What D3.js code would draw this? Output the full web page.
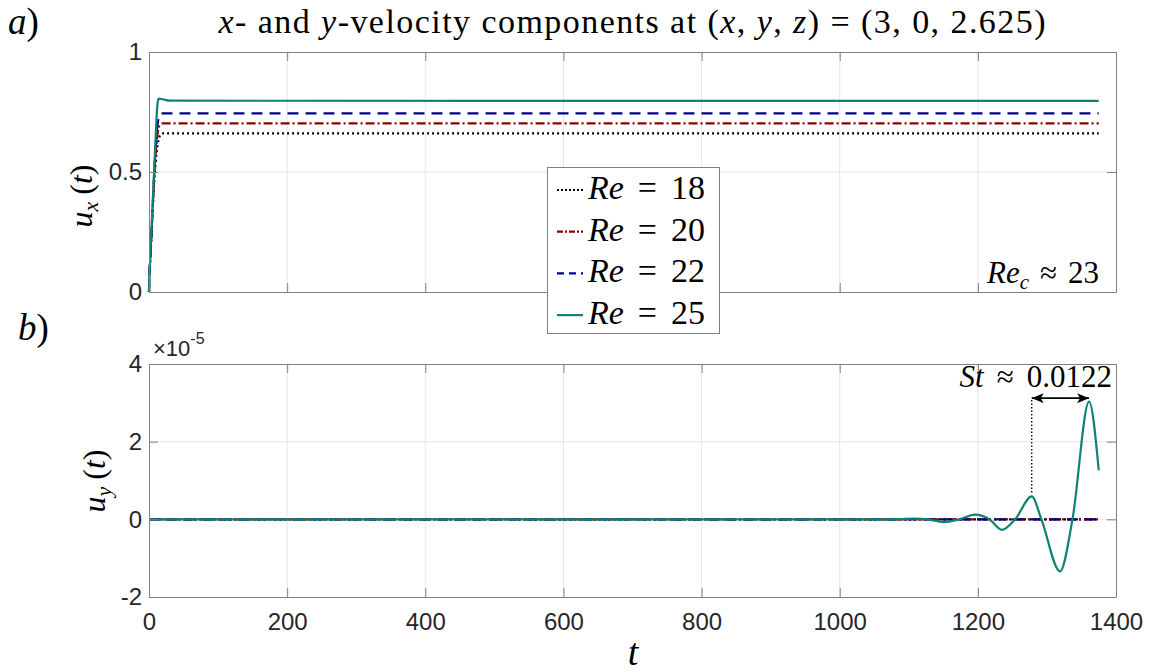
<!DOCTYPE html>
<html>
<head>
<meta charset="utf-8">
<script src="https://cdn.jsdelivr.net/npm/d3@7"></script>
<style>
  html, body { margin: 0; padding: 0; background: #fff; }
  svg { display: block; }
</style>
</head>
<body>
<svg id="chart" width="1149" height="672"></svg>
<script>
// ---------------- DATA ----------------
const reynolds = [18, 20, 22, 25];
const seriesColors = ["#000000", "#8b0000", "#00008b", "#0f8273"];
const seriesDash = ["2,3", "9,3,2,3", "11,7", null];
const legendDash = ["2,2", "6,2,2,2", "7,5", null];

const xTicks = [0, 200, 400, 600, 800, 1000, 1200, 1400];
const xTickLabels = ["0", "200", "400", "600", "800", "1000", "1200", "1400"];
const yTicksA = [0, 0.5, 1];
const yTickLabelsA = ["0", "0.5", "1"];
const yTicksB = [-2, 0, 2, 4];
const yTickLabelsB = ["-2", "0", "2", "4"];

// panel a : u_x(t)
const uxT18 = [0, 0.8, 1.5, 5, 8, 11, 14, 16.5, 20, 1375];
const uxV18 = [0, 0.09, 0.115, 0.32, 0.48, 0.58, 0.635, 0.655, 0.661, 0.661];
const uxT20 = [0, 0.8, 1.5, 5, 8, 11, 13, 15.5, 19, 1375];
const uxV20 = [0, 0.09, 0.12, 0.33, 0.5, 0.62, 0.67, 0.695, 0.703, 0.703];
const uxT22 = [0, 0.8, 1.5, 5, 8, 11, 13, 15, 18, 1375];
const uxV22 = [0, 0.09, 0.12, 0.34, 0.52, 0.66, 0.71, 0.735, 0.744, 0.744];
const uxT25 = [0, 0.8, 1.5, 5, 8, 11, 12.5, 14, 20, 30, 1375];
const uxV25 = [0, 0.09, 0.125, 0.35, 0.54, 0.73, 0.79, 0.806, 0.803, 0.797, 0.796];

// panel b : u_y(t)  (units of 1e-5)
const uyT18 = [0, 1375];
const uyV18 = [0, 0];
const uyT20 = [0, 1375];
const uyV20 = [0, 0];
const uyT22 = [0, 1375];
const uyV22 = [0, 0];
const uyT25 = [0, 1060, 1085, 1107, 1128, 1150, 1173, 1196, 1217, 1235, 1254, 1278, 1292, 1319, 1337, 1361, 1375];
const uyV25 = [0, 0, 0.005, 0.02, 0, -0.07, 0, 0.12, 0, -0.27, 0, 0.59, 0, -1.34, 0, 3.03, 1.26];

// Strouhal annotation
const stPeakT = [1278, 1361];
const stPeakV = 0.59;
const stArrowV = 3.12;

// ---------------- LAYOUT ----------------
const svg = d3.select("#chart");
const serif = "'Liberation Serif', 'Times New Roman', serif";
const sans = "'Liberation Sans', Arial, Helvetica, sans-serif";
const axisColor = "#808080";
const gridColor = "#e6e6e6";
const tickColor = "#262626";

const x = d3.scaleLinear().domain([0, 1400]).range([149, 1116]);
const yA = d3.scaleLinear().domain([0, 1]).range([292, 52]);
const yB = d3.scaleLinear().domain([-2, 4]).range([597, 364]);

function zip(ts, vs) { return ts.map((t, i) => [t, vs[i]]); }
const uxData = [zip(uxT18, uxV18), zip(uxT20, uxV20), zip(uxT22, uxV22), zip(uxT25, uxV25)];
const uyData = [zip(uyT18, uyV18), zip(uyT20, uyV20), zip(uyT22, uyV22), zip(uyT25, uyV25)];

function drawPanel(y, yTicks, yLabels, data) {
  const x0 = x.range()[0], x1 = x.range()[1];
  const y0 = y.range()[0], y1 = y.range()[1];
  const g = svg.append("g");
  g.selectAll(".gx").data(xTicks.slice(1, -1)).enter().append("line")
    .attr("x1", d => x(d)).attr("x2", d => x(d)).attr("y1", y0).attr("y2", y1)
    .attr("stroke", gridColor).attr("stroke-width", 1);
  g.selectAll(".gy").data(yTicks.filter(v => y(v) < y0 - 1 && y(v) > y1 + 1)).enter().append("line")
    .attr("x1", x0).attr("x2", x1).attr("y1", d => y(d)).attr("y2", d => y(d))
    .attr("stroke", gridColor).attr("stroke-width", 1);

  const line = d3.line().x(d => x(d[0])).y(d => y(d[1])).curve(d3.curveMonotoneX);
  data.forEach((d, i) => {
    const p = g.append("path").datum(d).attr("d", line)
      .attr("fill", "none").attr("stroke", seriesColors[i]).attr("stroke-width", 2.2);
    if (seriesDash[i]) p.attr("stroke-dasharray", seriesDash[i]);
  });

  const bottom = g.append("g").attr("transform", `translate(0,${y0})`);
  const top = g.append("g").attr("transform", `translate(0,${y1})`);
  const left = g.append("g").attr("transform", `translate(${x0},0)`);
  const right = g.append("g").attr("transform", `translate(${x1},0)`);
  bottom.call(d3.axisBottom(x).tickValues(xTicks).tickSize(-9).tickSizeOuter(0).tickPadding(16)
    .tickFormat((d, i) => (y === yB ? xTickLabels[i] : "")));
  top.call(d3.axisTop(x).tickValues(xTicks).tickSize(-9).tickSizeOuter(0).tickFormat(""));
  left.call(d3.axisLeft(y).tickValues(yTicks).tickSize(-9).tickSizeOuter(0).tickPadding(7)
    .tickFormat((d, i) => yLabels[i]));
  right.call(d3.axisRight(y).tickValues(yTicks).tickSize(-9).tickSizeOuter(0).tickFormat(""));
  [bottom, top, left, right].forEach(a => {
    a.selectAll("path.domain").attr("stroke", axisColor).attr("stroke-width", 1);
    a.selectAll(".tick line").attr("stroke", axisColor).attr("stroke-width", 1);
    a.selectAll(".tick text").attr("font-family", sans).attr("font-size", 24).attr("fill", tickColor);
  });
  return g;
}

// ---------------- PANEL A ----------------
drawPanel(yA, yTicksA, yTickLabelsA, uxData);
const rec = svg.append("text").attr("font-family", serif).attr("font-size", 31)
  .attr("x", 1099).attr("y", 283).attr("text-anchor", "end");
rec.append("tspan").text("Re").attr("font-style", "italic");
rec.append("tspan").text("c").attr("font-style", "italic").attr("font-size", 21).attr("dy", 6);
rec.append("tspan").text("≈").attr("dy", -6).attr("dx", 11);
rec.append("tspan").text("23").attr("dx", 11);

// ---------------- PANEL B ----------------
drawPanel(yB, yTicksB, yTickLabelsB, uyData);

svg.append("line")
  .attr("x1", x(stPeakT[0])).attr("x2", x(stPeakT[0]))
  .attr("y1", yB(stPeakV) - 4).attr("y2", yB(stArrowV))
  .attr("stroke", "#000").attr("stroke-width", 1.3).attr("stroke-dasharray", "1.5,2");
const defs = svg.append("defs");
defs.append("marker").attr("id", "ah").attr("viewBox", "0 0 12 10").attr("refX", 12).attr("refY", 5)
  .attr("markerWidth", 12).attr("markerHeight", 10).attr("markerUnits", "userSpaceOnUse")
  .attr("orient", "auto-start-reverse")
  .append("path").attr("d", "M0,0 L12,5 L0,10 L3,5 Z").attr("fill", "#000");
svg.append("line")
  .attr("x1", x(stPeakT[0])).attr("x2", x(stPeakT[1]))
  .attr("y1", yB(stArrowV)).attr("y2", yB(stArrowV))
  .attr("stroke", "#000").attr("stroke-width", 1.6)
  .attr("marker-start", "url(#ah)").attr("marker-end", "url(#ah)");
const stT = svg.append("text").attr("font-family", serif).attr("font-size", 31)
  .attr("x", 1112).attr("y", 387).attr("text-anchor", "end");
stT.append("tspan").text("St").attr("font-style", "italic");
stT.append("tspan").text("≈").attr("dx", 13);
stT.append("tspan").text("0.0122").attr("dx", 13);

const ex = svg.append("text").attr("font-family", sans).attr("font-size", 22).attr("fill", tickColor)
  .attr("x", 153).attr("y", 356);
ex.append("tspan").text("×10");
ex.append("tspan").text("-5").attr("font-size", 16).attr("dy", -12);

// ---------------- LEGEND ----------------
const lg = svg.append("g");
lg.append("rect").attr("x", 547.5).attr("y", 167.5).attr("width", 172).attr("height", 166)
  .attr("fill", "#fff").attr("stroke", "#808080").attr("stroke-width", 1);
reynolds.forEach((re, i) => {
  const yl = 190 + i * 41.7;
  const l = lg.append("line").attr("x1", 557).attr("x2", 583).attr("y1", yl).attr("y2", yl)
    .attr("stroke", seriesColors[i]).attr("stroke-width", 2.2);
  if (legendDash[i]) l.attr("stroke-dasharray", legendDash[i]);
  const t = lg.append("text").attr("font-family", serif).attr("font-size", 34)
    .attr("x", 588).attr("y", yl + 9);
  t.append("tspan").text("Re").attr("font-style", "italic");
  t.append("tspan").text("=").attr("dx", 14);
  t.append("tspan").text(String(re)).attr("dx", 14);
});

// ---------------- TITLES & LABELS ----------------
const title = svg.append("text").attr("font-family", serif).attr("font-size", 34)
  .attr("x", 632).attr("y", 33).attr("text-anchor", "middle")
  .attr("textLength", 827).attr("lengthAdjust", "spacing");
[["x", true], ["- and ", false], ["y", true], ["-velocity components at (", false],
 ["x", true], [", ", false], ["y", true], [", ", false], ["z", true], [") = (3, 0, 2.625)", false]]
  .forEach(p => title.append("tspan").text(p[0]).attr("font-style", p[1] ? "italic" : "normal"));

function panelTag(txt, xx, yy) {
  const t = svg.append("text").attr("font-family", serif).attr("font-size", 37).attr("x", xx).attr("y", yy);
  t.append("tspan").text(txt).attr("font-style", "italic");
  t.append("tspan").text(")");
}
panelTag("a", 8, 34);
panelTag("b", 18, 340);

function yLabel(sub, cx, cy) {
  const t = svg.append("text").attr("font-family", serif).attr("font-size", 32)
    .attr("text-anchor", "middle")
    .attr("transform", `translate(${cx},${cy}) rotate(-90)`);
  t.append("tspan").text("u").attr("font-style", "italic");
  t.append("tspan").text(sub).attr("font-style", "italic").attr("font-size", 22).attr("dy", 6);
  t.append("tspan").text("(").attr("dy", -6).attr("dx", 7);
  t.append("tspan").text("t").attr("font-style", "italic");
  t.append("tspan").text(")");
}
yLabel("x", 92, 196);
yLabel("y", 105, 481);

svg.append("text").attr("font-family", serif).attr("font-size", 38).attr("font-style", "italic")
  .attr("x", 633).attr("y", 665).attr("text-anchor", "middle").text("t");
</script>
</body>
</html>
